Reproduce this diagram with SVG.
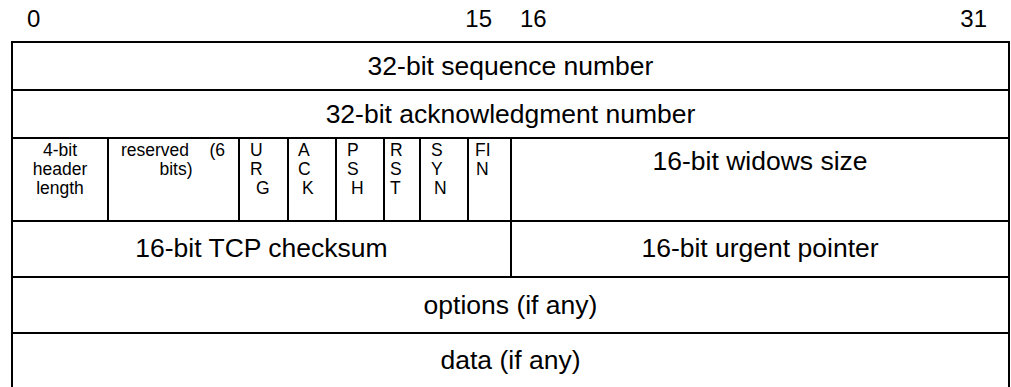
<svg xmlns="http://www.w3.org/2000/svg" width="1011" height="387" viewBox="0 0 1011 387">
  <style>
    text { font-family: "Liberation Sans", Arial, sans-serif; fill: #000; }
    .cell { fill: #fff; stroke: #000; stroke-width: 2; }
    .edge { fill: none; stroke: #000; stroke-width: 2; }
    .bits { font-size: 24px; }
    .big { font-size: 26.5px; text-anchor: middle; }
    .small { font-size: 17.5px; }
    .mid { text-anchor: middle; }
  </style>

  <!-- bit position ruler -->
  <g id="ruler" class="bits">
    <text x="27" y="27">0</text>
    <text x="492" y="27" text-anchor="end">15</text>
    <text x="520" y="27">16</text>
    <text x="987" y="27" text-anchor="end">31</text>
  </g>

  <!-- row 1 -->
  <g id="seq">
    <rect class="cell" x="12" y="42" width="997" height="48"/>
    <text class="big" x="510.5" y="75">32-bit sequence number</text>
  </g>

  <!-- row 2 -->
  <g id="ack-num">
    <rect class="cell" x="12" y="90" width="997" height="48"/>
    <text class="big" x="510.5" y="123">32-bit acknowledgment number</text>
  </g>

  <!-- row 3: header length, reserved bits, flags, window -->
  <g id="hlen">
    <rect class="cell" x="12" y="138" width="96" height="83"/>
    <text class="small mid" x="60" y="156">4-bit</text>
    <text class="small mid" x="60" y="175">header</text>
    <text class="small mid" x="60" y="194">length</text>
  </g>
  <g id="reserved">
    <rect class="cell" x="108" y="138" width="131" height="83"/>
    <text class="small" x="121" y="156">reserved</text>
    <text class="small" x="225" y="156" text-anchor="end">(6</text>
    <text class="small mid" x="176" y="175">bits)</text>
  </g>
  <g id="urg">
    <rect class="cell" x="239" y="138" width="49" height="83"/>
    <text class="small" x="250" y="156">U</text>
    <text class="small" x="250" y="175">R</text>
    <text class="small" x="256" y="194">G</text>
  </g>
  <g id="ack">
    <rect class="cell" x="288" y="138" width="48" height="83"/>
    <text class="small" x="298" y="156">A</text>
    <text class="small" x="298" y="175">C</text>
    <text class="small" x="302" y="194">K</text>
  </g>
  <g id="psh">
    <rect class="cell" x="336" y="138" width="48" height="83"/>
    <text class="small" x="347" y="156">P</text>
    <text class="small" x="347" y="175">S</text>
    <text class="small" x="351" y="194">H</text>
  </g>
  <g id="rst">
    <rect class="cell" x="384" y="138" width="36" height="83"/>
    <text class="small" x="390" y="156">R</text>
    <text class="small" x="390" y="175">S</text>
    <text class="small" x="390" y="194">T</text>
  </g>
  <g id="syn">
    <rect class="cell" x="420" y="138" width="48" height="83"/>
    <text class="small" x="431" y="156">S</text>
    <text class="small" x="431" y="175">Y</text>
    <text class="small" x="434" y="194">N</text>
  </g>
  <g id="fin">
    <rect class="cell" x="468" y="138" width="43" height="83"/>
    <text class="small" x="475" y="156">FI</text>
    <text class="small" x="476" y="175">N</text>
  </g>
  <g id="window">
    <rect class="cell" x="511" y="138" width="498" height="83"/>
    <text class="big" x="760" y="170">16-bit widows size</text>
  </g>

  <!-- row 4 -->
  <g id="checksum">
    <rect class="cell" x="12" y="221" width="499" height="56"/>
    <text class="big" x="261.5" y="257">16-bit TCP checksum</text>
  </g>
  <g id="urgent">
    <rect class="cell" x="511" y="221" width="498" height="56"/>
    <text class="big" x="760" y="257">16-bit urgent pointer</text>
  </g>

  <!-- row 5 -->
  <g id="options">
    <rect class="cell" x="12" y="277" width="997" height="56"/>
    <text class="big" x="510.5" y="314">options (if any)</text>
  </g>

  <!-- row 6: open at the bottom -->
  <g id="data">
    <path class="edge" d="M12 387 V333 H1009 V387"/>
    <text class="big" x="510.5" y="369">data (if any)</text>
  </g>
</svg>
